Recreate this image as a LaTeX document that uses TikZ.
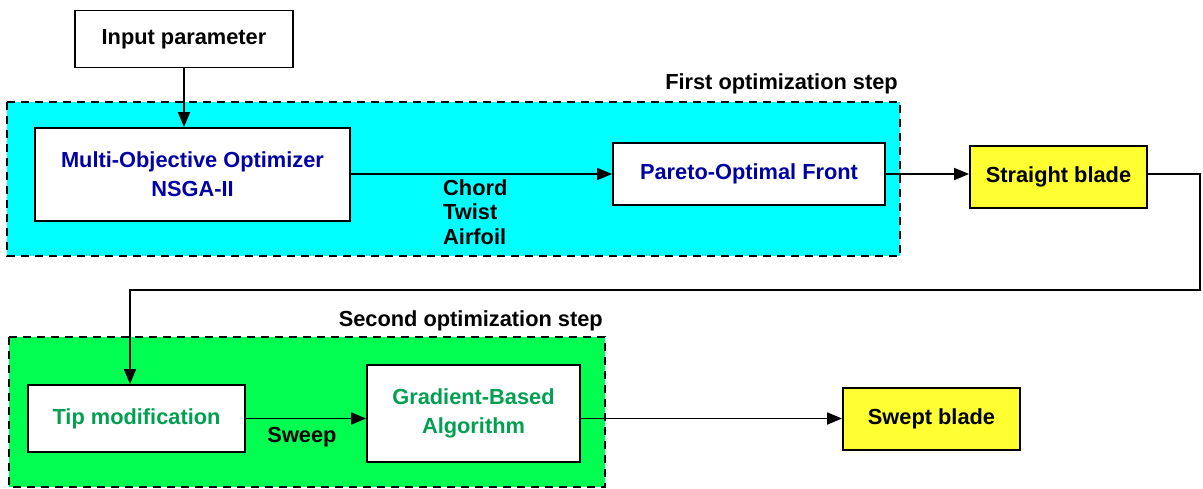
\documentclass[tikz,border=0pt]{standalone}
\usepackage{fontspec}
\setmainfont{Liberation Sans}
\usetikzlibrary{arrows.meta}
\definecolor{stepcyan}{RGB}{0,255,255}
\definecolor{stepgreen}{RGB}{0,255,80}
\definecolor{bladeyellow}{RGB}{255,255,50}
\definecolor{textblue}{RGB}{0,0,165}
\definecolor{textgreen}{RGB}{0,160,80}
\begin{document}
\begin{tikzpicture}[x=1pt, y=-1pt,
  every node/.style={font=\fontsize{21.8}{29}\selectfont\bfseries, align=center},
  block/.style={draw, line width=1.8pt, fill=white, inner sep=0pt},
  blade/.style={block, fill=bladeyellow},
  region/.style={draw, line width=1.8pt, dash pattern=on 8pt off 6pt},
  flow/.style={line width=1.6pt, -{Triangle[length=15pt, width=12pt]}}]
  \useasboundingbox (0,0) rectangle (1203,488);

  % optimization regions
  \path[region, fill=stepcyan] (7,102) rectangle (900,256);
  \path[region, fill=stepgreen] (9,337) rectangle (605,487);
  \node[anchor=south east, inner sep=0pt] (first) at (898,94) {First optimization step};
  \node[anchor=south east, inner sep=0pt] (second) at (603,331) {Second optimization step};

  % blocks
  \node[block, minimum width=315pt, minimum height=93pt, text=textblue] (moo) at (192.5,174.5) {Multi-Objective Optimizer\\NSGA-II};
  \node[block, minimum width=218pt, minimum height=57pt] (input) at (184,39) {Input parameter};
  \node[block, minimum width=272pt, minimum height=62pt, text=textblue] (pareto) at (749,174) {Pareto-Optimal Front};
  \node[blade, minimum width=177pt, minimum height=62pt] (straight) at (1058.5,177) {Straight blade};
  \node[block, minimum width=217pt, minimum height=67pt, text=textgreen] (tip) at (136.5,418.5) {Tip modification};
  \node[block, minimum width=213pt, minimum height=97pt, text=textgreen] (grad) at (473.5,413.5) {Gradient-Based\\Algorithm};
  \node[blade, minimum width=177pt, minimum height=62pt] (swept) at (931.5,419) {Swept blade};

  % connectors
  \coordinate (outR) at (1200,290);
  \draw[flow] (input.south) -- (moo.north -| input.south);
  \draw[flow] (moo.east |- pareto.west) -- (pareto.west);
  \draw[flow] (pareto.east) -- (pareto.east -| straight.west);
  \draw[flow] (straight.east |- pareto.east) -| (outR) -- (outR -| 130,0) -- (tip.north -| 130,0);
  \draw[flow] (tip.east) -- (tip.east -| grad.west);
  \draw[flow] (grad.east |- tip.east) -- (swept.west |- tip.east);

  % labels
  \node[anchor=north west, inner sep=0pt, align=left, font=\fontsize{21.8}{24.5}\selectfont\bfseries] (params) at (443,179) {Chord\\Twist\\Airfoil};
  \node[inner sep=0pt] (sweep) at (302,437) {Sweep};
\end{tikzpicture}
\end{document}
